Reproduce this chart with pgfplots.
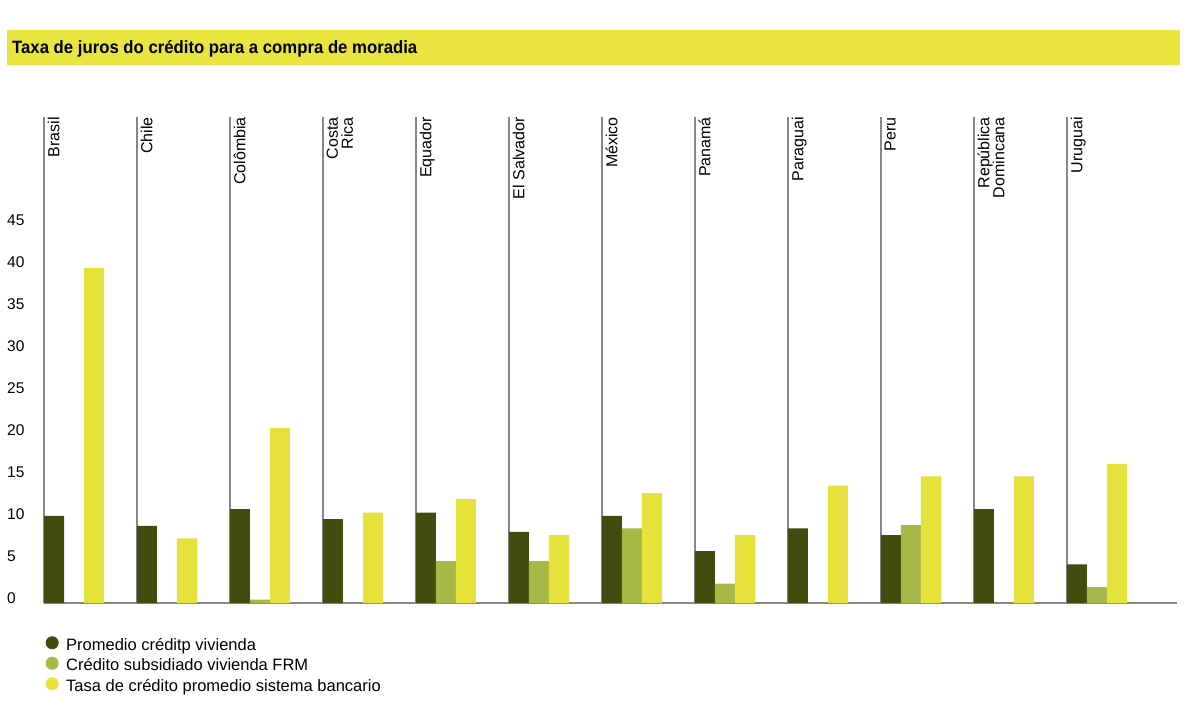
\documentclass[border=0pt]{standalone}
\usepackage{fontspec}
\setmainfont{Liberation Sans}
\newfontfamily\titlefont[FakeStretch=0.94]{Liberation Sans}
\usepackage{pgfplots}
\pgfplotsset{compat=1.18}
\definecolor{dark}{RGB}{67,75,14}
\definecolor{mid}{RGB}{168,184,70}
\definecolor{lite}{RGB}{230,226,60}
\definecolor{bar}{RGB}{233,228,64}
\definecolor{rule}{RGB}{135,135,135}
\newcommand{\lbl}{\fontsize{16}{15}\selectfont}
\begin{document}
\begin{tikzpicture}
\path[use as bounding box] (0,0) rectangle (1200pt,-711pt);
\fill[bar] (7pt,-30pt) rectangle (1180pt,-65pt);
\node[anchor=base west, inner sep=0] at (12pt,-54pt) {\titlefont\bfseries\fontsize{17.8}{20}\selectfont Taxa de juros do crédito para a compra de moradia};
\begin{axis}[
  at={(44pt,-603pt)}, anchor=south west,
  scale only axis, width=1133pt, height=486pt,
  xmin=0, xmax=12.183, ymin=0, ymax=58,
  axis lines*=left,
  axis line style={rule, line width=1.1pt},
  xtick={0,...,11}, xticklabels={},
  xmajorgrids, grid style={rule, line width=1.1pt},
  major tick length=0pt,
  ytick={0,5,...,45},
  /pgf/number format/assume math mode=true,
  yticklabel style={anchor=base west, inner sep=0pt, xshift=-37pt, font=\fontsize{15.5}{17}\selectfont},
  ybar, bar width=20pt,
  legend image code/.code={\fill[#1] (6.5pt,0.35em) circle (6.5pt);},
  legend cell align=left,
  legend style={at={(0.0013,-0.068)}, anchor=north west, draw=none, fill=none,
    font=\fontsize{16.5}{19}\selectfont, inner sep=0pt, row sep=2.5pt,
    nodes={inner sep=0pt, text height=12pt, text depth=4pt},
    /tikz/every odd column/.append style={column sep=7.5pt}},
]
\addplot[fill=dark, draw=none, bar shift=10pt] coordinates {
(0,10.4) (1,9.2) (2,11.2) (3,10.0) (4,10.8) (5,8.5) (6,10.4) (7,6.2) (8,8.9) (9,8.1) (10,11.2) (11,4.6)};
\addplot[fill=mid, draw=none, bar shift=30pt] coordinates {
(2,0.4) (4,5.0) (5,5.0) (6,8.9) (7,2.3) (9,9.3) (11,1.9)};
\addplot[fill=lite, draw=none, bar shift=50pt] coordinates {
(0,40.0) (1,7.7) (2,20.9) (3,10.8) (4,12.4) (5,8.1) (6,13.1) (7,8.1) (8,14.0) (9,15.1) (10,15.1) (11,16.6)};
\legend{Promedio créditp vivienda, Crédito subsidiado vivienda FRM, Tasa de crédito promedio sistema bancario}
\node[rotate=90, anchor=north east, align=right, inner sep=0pt, font=\lbl] at ([xshift=3.5pt]axis cs:0,58) {Brasil};
\node[rotate=90, anchor=north east, align=right, inner sep=0pt, font=\lbl] at ([xshift=3.5pt]axis cs:1,58) {Chile};
\node[rotate=90, anchor=north east, align=right, inner sep=0pt, font=\lbl] at ([xshift=3.5pt]axis cs:2,58) {Colômbia};
\node[rotate=90, anchor=north east, align=right, inner sep=0pt, font=\lbl] at ([xshift=3.5pt]axis cs:3,58) {Costa\\Rica};
\node[rotate=90, anchor=north east, align=right, inner sep=0pt, font=\lbl] at ([xshift=3.5pt]axis cs:4,58) {Equador};
\node[rotate=90, anchor=north east, align=right, inner sep=0pt, font=\lbl] at ([xshift=3.5pt]axis cs:5,58) {El Salvador};
\node[rotate=90, anchor=north east, align=right, inner sep=0pt, font=\lbl] at ([xshift=3.5pt]axis cs:6,58) {México};
\node[rotate=90, anchor=north east, align=right, inner sep=0pt, font=\lbl] at ([xshift=3.5pt]axis cs:7,58) {Panamá};
\node[rotate=90, anchor=north east, align=right, inner sep=0pt, font=\lbl] at ([xshift=3.5pt]axis cs:8,58) {Paraguai};
\node[rotate=90, anchor=north east, align=right, inner sep=0pt, font=\lbl] at ([xshift=3.5pt]axis cs:9,58) {Peru};
\node[rotate=90, anchor=north east, align=right, inner sep=0pt, font=\lbl] at ([xshift=3.5pt]axis cs:10,58) {República\\Domincana};
\node[rotate=90, anchor=north east, align=right, inner sep=0pt, font=\lbl] at ([xshift=3.5pt]axis cs:11,58) {Uruguai};
\end{axis}
\end{tikzpicture}
\end{document}
